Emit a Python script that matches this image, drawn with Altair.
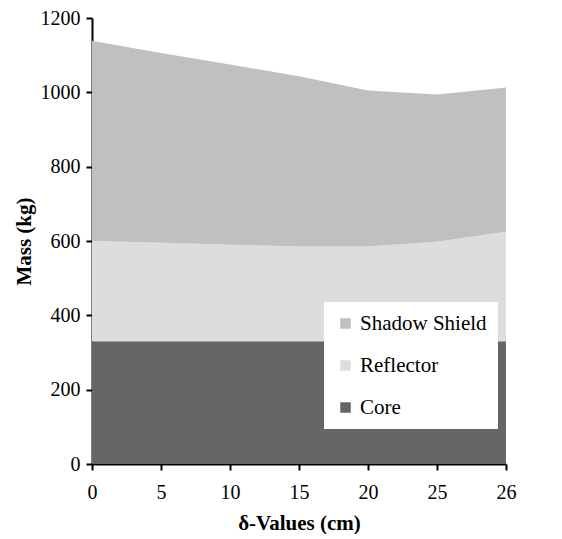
import altair as alt
import pandas as pd

delta = ["0", "5", "10", "15", "20", "25", "26"]
core = [330, 330, 330, 330, 330, 330, 330]
reflector = [270, 265, 260, 255, 255, 268, 295]
shield = [539, 511, 485, 458, 420, 396, 388]

series = ["Shadow Shield", "Reflector", "Core"]
colors = ["#c0c0c0", "#dddddd", "#666666"]
stack_order = {"Core": 0, "Reflector": 1, "Shadow Shield": 2}

rows = []
for name, vals in [("Core", core), ("Reflector", reflector), ("Shadow Shield", shield)]:
    for d, v in zip(delta, vals):
        rows.append({"delta": d, "mass": v, "component": name, "ord": stack_order[name]})
df = pd.DataFrame(rows)

font = "Times New Roman, Liberation Serif, serif"

chart = alt.Chart(df).mark_area(opacity=1).encode(
    x=alt.X("delta:O", sort=delta, scale=alt.Scale(padding=0),
            axis=alt.Axis(title="δ-Values (cm)", labelAngle=0, labelPadding=12,
                          titlePadding=10)),
    y=alt.Y("mass:Q", stack="zero", scale=alt.Scale(domain=[0, 1200]),
            axis=alt.Axis(title="Mass (kg)", values=[0, 200, 400, 600, 800, 1000, 1200],
                          format="d", grid=False, labelPadding=6, titlePadding=6)),
    color=alt.Color("component:N", scale=alt.Scale(domain=series, range=colors),
                    legend=alt.Legend(title=None, orient="none", legendX=232, legendY=284,
                                      fillColor="white", padding=11, rowPadding=20,
                                      symbolType="square", symbolSize=110,
                                      symbolStrokeWidth=0, labelFontSize=21,
                                      labelFont=font, labelColor="black",
                                      symbolOpacity=1)),
    order=alt.Order("ord:Q"),
).properties(
    width=414, height=446,
    autosize=alt.AutoSizeParams(type="none"),
    padding={"left": 84, "top": 10, "right": 40, "bottom": 70},
).configure_axis(
    domainColor="black", domainWidth=2, tickColor="black", tickWidth=2, tickSize=6,
    labelFont=font, labelFontSize=20, labelColor="black",
    titleFont=font, titleFontSize=21, titleFontWeight="bold", titleColor="black",
    grid=False,
).configure_legend(
    labelFont=font, labelFontSize=21, labelColor="black",
).configure_view(stroke=None)

chart.save("out.html", embed_options={"renderer": "svg", "actions": False})
